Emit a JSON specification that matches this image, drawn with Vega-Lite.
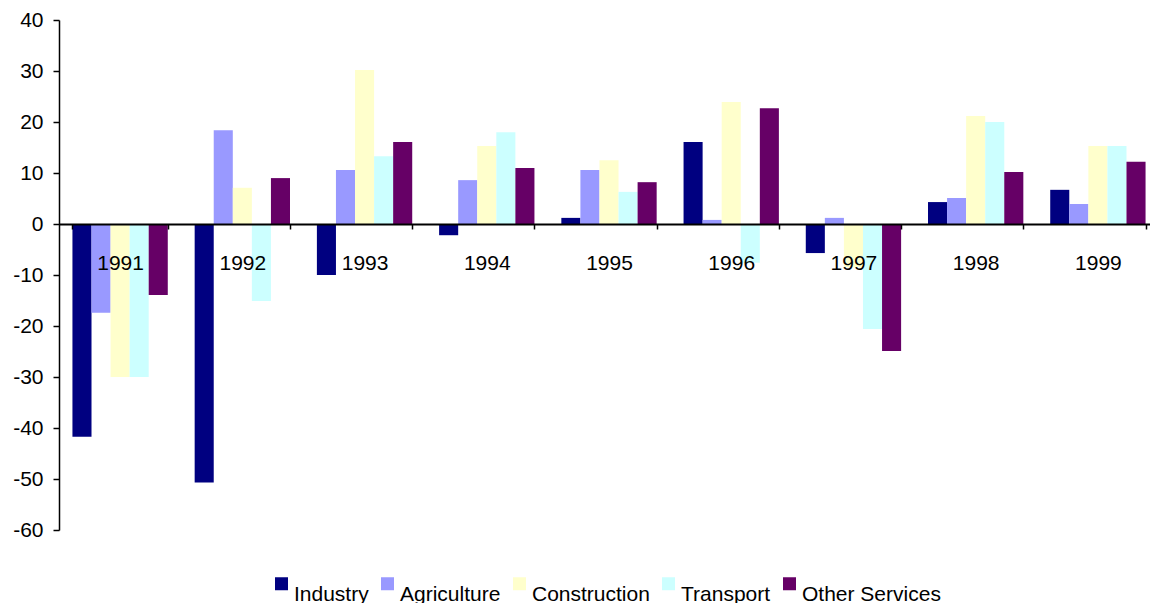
{
  "$schema": "https://vega.github.io/schema/vega-lite/v6.json",
  "width": 1100,
  "height": 510,
  "autosize": {"type": "none"},
  "padding": {"left": 59, "top": 20, "right": 0, "bottom": 73},
  "background": "white",
  "config": {
    "view": {"stroke": null},
    "font": "Liberation Sans"
  },
  "data": {
    "values": [
      {"year": "1991", "sector": "Industry", "value": -41.7},
      {"year": "1991", "sector": "Agriculture", "value": -17.4},
      {"year": "1991", "sector": "Construction", "value": -30},
      {"year": "1991", "sector": "Transport", "value": -30},
      {"year": "1991", "sector": "Other Services", "value": -13.9},
      {"year": "1992", "sector": "Industry", "value": -50.7},
      {"year": "1992", "sector": "Agriculture", "value": 18.4},
      {"year": "1992", "sector": "Construction", "value": 7.1},
      {"year": "1992", "sector": "Transport", "value": -15.1},
      {"year": "1992", "sector": "Other Services", "value": 9.0},
      {"year": "1993", "sector": "Industry", "value": -10},
      {"year": "1993", "sector": "Agriculture", "value": 10.6},
      {"year": "1993", "sector": "Construction", "value": 30.2},
      {"year": "1993", "sector": "Transport", "value": 13.3},
      {"year": "1993", "sector": "Other Services", "value": 16.1},
      {"year": "1994", "sector": "Industry", "value": -2.2},
      {"year": "1994", "sector": "Agriculture", "value": 8.6},
      {"year": "1994", "sector": "Construction", "value": 15.3},
      {"year": "1994", "sector": "Transport", "value": 18.0},
      {"year": "1994", "sector": "Other Services", "value": 11.0},
      {"year": "1995", "sector": "Industry", "value": 1.2},
      {"year": "1995", "sector": "Agriculture", "value": 10.6},
      {"year": "1995", "sector": "Construction", "value": 12.5},
      {"year": "1995", "sector": "Transport", "value": 6.3},
      {"year": "1995", "sector": "Other Services", "value": 8.2},
      {"year": "1996", "sector": "Industry", "value": 16.1},
      {"year": "1996", "sector": "Agriculture", "value": 0.8},
      {"year": "1996", "sector": "Construction", "value": 23.9},
      {"year": "1996", "sector": "Transport", "value": -7.6},
      {"year": "1996", "sector": "Other Services", "value": 22.7},
      {"year": "1997", "sector": "Industry", "value": -5.7},
      {"year": "1997", "sector": "Agriculture", "value": 1.2},
      {"year": "1997", "sector": "Construction", "value": -8.5},
      {"year": "1997", "sector": "Transport", "value": -20.6},
      {"year": "1997", "sector": "Other Services", "value": -24.9},
      {"year": "1998", "sector": "Industry", "value": 4.3},
      {"year": "1998", "sector": "Agriculture", "value": 5.1},
      {"year": "1998", "sector": "Construction", "value": 21.2},
      {"year": "1998", "sector": "Transport", "value": 20.0},
      {"year": "1998", "sector": "Other Services", "value": 10.2},
      {"year": "1999", "sector": "Industry", "value": 6.7},
      {"year": "1999", "sector": "Agriculture", "value": 3.9},
      {"year": "1999", "sector": "Construction", "value": 15.3},
      {"year": "1999", "sector": "Transport", "value": 15.3},
      {"year": "1999", "sector": "Other Services", "value": 12.2}
    ]
  },
  "mark": {"type": "bar", "strokeWidth": 0},
  "encoding": {
    "x": {
      "field": "year",
      "type": "nominal",
      "scale": {"paddingInner": 0.22, "paddingOuter": 0.11},
      "axis": {
        "title": null,
        "orient": "bottom",
        "offset": -306,
        "labelAngle": 0,
        "labelFont": "Liberation Sans",
        "labelFontSize": 21,
        "labelColor": "#000000",
        "labelPadding": 23,
        "tickBand": "extent",
        "tickSize": 5,
        "tickColor": "#000000",
        "tickWidth": 1.5,
        "domainColor": "#000000",
        "domainWidth": 2,
        "grid": false,
        "zindex": 1
      }
    },
    "xOffset": {
      "field": "sector",
      "type": "nominal",
      "sort": ["Industry", "Agriculture", "Construction", "Transport", "Other Services"],
      "scale": {"paddingInner": 0, "paddingOuter": 0}
    },
    "y": {
      "field": "value",
      "type": "quantitative",
      "scale": {"domain": [-60, 40], "nice": false, "zero": false},
      "axis": {
        "title": null,
        "values": [-60, -50, -40, -30, -20, -10, 0, 10, 20, 30, 40],
        "labelExpr": "datum.value + ''",
        "labelFont": "Liberation Sans",
        "labelFontSize": 21,
        "labelColor": "#000000",
        "labelPadding": 10,
        "tickSize": 6,
        "tickColor": "#000000",
        "tickWidth": 1.5,
        "domainColor": "#000000",
        "domainWidth": 1.5,
        "grid": false
      }
    },
    "color": {
      "field": "sector",
      "type": "nominal",
      "sort": ["Industry", "Agriculture", "Construction", "Transport", "Other Services"],
      "scale": {
        "domain": ["Industry", "Agriculture", "Construction", "Transport", "Other Services"],
        "range": ["#000080", "#9999FF", "#FFFFCC", "#CCFFFF", "#660066"]
      },
      "legend": {
        "title": null,
        "orient": "none",
        "legendX": 212,
        "legendY": 553,
        "direction": "horizontal",
        "symbolType": "square",
        "symbolSize": 169,
        "symbolStrokeWidth": 0,
        "symbolOpacity": 1,
        "labelFont": "Liberation Sans",
        "labelFontSize": 21,
        "labelColor": "#000000",
        "labelBaseline": "top",
        "labelOffset": 2,
        "columnPadding": 8
      }
    }
  }
}
